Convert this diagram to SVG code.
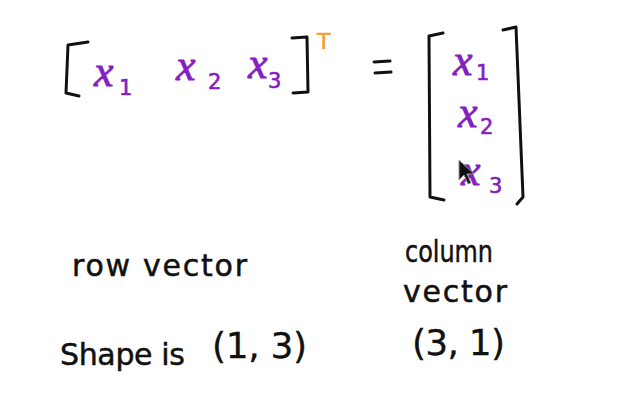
<svg xmlns="http://www.w3.org/2000/svg" width="624" height="402" viewBox="0 0 624 402">
<style>
.br{fill:none;stroke:#111;stroke-width:3;stroke-linecap:round;stroke-linejoin:round}
.vx{font-family:"Liberation Serif",serif;font-style:italic;font-size:44px;fill:#8420c0;stroke:#8420c0;stroke-width:0.8}
.vs{font-family:"DejaVu Sans",sans-serif;font-size:21px;fill:#8420c0;stroke:#8420c0;stroke-width:0.6}
.hw{font-family:"DejaVu Sans",sans-serif;font-size:30px;fill:#111;stroke:#111;stroke-width:0.5}
.pr{font-family:"DejaVu Sans",sans-serif;font-size:36px;fill:#111;stroke:#111;stroke-width:0.3}
</style>
<rect width="624" height="402" fill="#fff"/>
<g id="row-vector">
<path class="br" d="M88,42 L68,45 L66,93 L79,96"/>
<path class="br" d="M292,38 L307,37 L308,92 L293,93"/>
<text class="vx" x="94" y="86">x</text><text class="vs" x="119" y="95">1</text>
<text class="vx" x="176" y="80">x</text><text class="vs" x="208" y="89">2</text>
<text class="vx" x="248" y="78">x</text><text class="vs" x="268" y="88">3</text>
<text x="317" y="49" font-family="DejaVu Sans,sans-serif" font-size="22" fill="#f0a030" stroke="#f0a030" stroke-width="0.5">T</text>
</g>
<g id="equals">
<path class="br" d="M374,62 L390,61 M375,73 L391,72"/>
</g>
<g id="column-vector">
<path class="br" d="M443,33 L429,36 L430,197 L444,200"/>
<path class="br" d="M503,30 L516,27 L523,197 L517,204"/>
<text class="vx" x="453" y="75">x</text><text class="vs" x="476" y="80">1</text>
<text class="vx" x="458" y="127">x</text><text class="vs" x="480" y="134">2</text>
<text class="vx" x="461" y="185">x</text><text class="vs" x="489" y="193">3</text>
<path d="M459,160 L459,180 L464,175 L468,184 L471,183 L467,174 L474,174 Z" fill="#111" stroke="#999" stroke-width="1"/>
</g>
<g id="labels">
<text class="hw" x="72" y="276" textLength="175" lengthAdjust="spacing">row vector</text>
<text class="hw" x="405" y="262" font-size="26" textLength="88" lengthAdjust="spacingAndGlyphs">column</text>
<text class="hw" x="403" y="302" textLength="104" lengthAdjust="spacing">vector</text>
<text class="hw" x="60" y="365" textLength="125" lengthAdjust="spacing">Shape is</text>
<text class="pr" x="212" y="358" textLength="95" lengthAdjust="spacing">(1, 3)</text>
<text class="pr" x="412" y="355" textLength="93" lengthAdjust="spacing">(3, 1)</text>
</g>
</svg>
